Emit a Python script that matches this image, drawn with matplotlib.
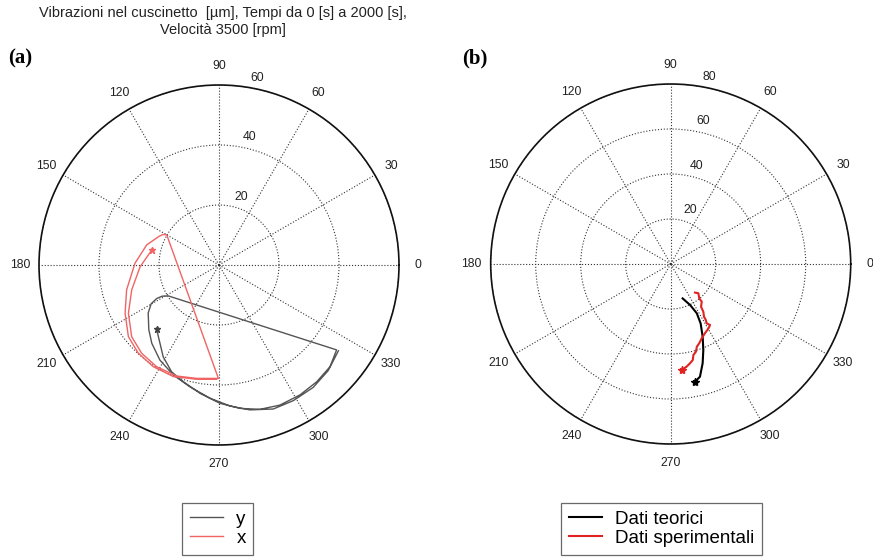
import numpy as np
import matplotlib
matplotlib.use("Agg")
import matplotlib.pyplot as plt
from matplotlib.transforms import ScaledTranslation

plt.rcParams["font.family"] = ["Liberation Sans", "DejaVu Sans"]

# ---- data (x/y components, same units as the rings) ----
# (a) bearing vibration, rmax 60
red_x = [-22.4, -26.3, -29.1, -30.2, -29.1, -25.8, -20.8, -14.1, -7.4, -0.2,
         -17.4, -18.6, -19.9, -24.1, -28.0, -30.8, -31.3, -30.2, -26.9, -21.9, -15.2, -7.4, -0.8]
red_y = [5.0, -0.6, -8.3, -16.1, -23.9, -29.4, -33.9, -37.0, -37.8, -37.8,
         10.0, 10.2, 9.6, 6.7, 0.6, -8.3, -16.1, -23.9, -29.4, -33.9, -37.2, -38.1, -38.1]

gray_x = [-20.8, -20.2, -18.6, -15.8, -11.9, -6.3, 0.3, 7.0, 13.7, 20.3, 27.0, 32.6, 37.0, 39.2,
          -16.9, -19.0, -20.8, -22.6, -23.6, -23.4, -22.4, -19.7, -15.2, -9.7, -3.0, 3.7, 10.3,
          18.1, 24.8, 31.4, 36.4, 39.8]
gray_y = [-21.4, -23.9, -30.6, -35.6, -38.9, -42.8, -46.1, -47.8, -48.1, -46.7, -43.3, -38.9,
          -33.9, -28.3, -10.3, -10.4, -11.2, -12.9, -16.0, -21.5, -26.1, -31.7, -36.7, -40.6,
          -44.4, -47.0, -48.3, -48.0, -45.2, -40.8, -35.2, -28.6]

# (b) theory vs experiment, rmax 80
teo_x = [5.3, 8.6, 11.6, 13.3, 14.2, 14.5, 14.2, 13.0, 10.8]
teo_y = [-15.3, -18.2, -21.9, -26.4, -32.3, -38.2, -44.1, -50.1, -52.3]

sper_x = [10.8, 12.3, 12.7, 13.8, 13.5, 14.5, 14.8, 15.6, 16.0, 17.5, 16.8, 15.2, 13.8,
          12.7, 11.6, 11.2, 10.1, 9.8, 8.6, 7.1, 4.9]
sper_y = [-12.7, -13.0, -15.3, -16.7, -19.0, -21.2, -23.4, -24.9, -26.4, -27.1, -28.6, -30.8,
          -33.0, -35.2, -36.8, -39.0, -40.4, -42.7, -44.1, -45.6, -47.1]

angle_ticks = list(range(0, 360, 30))
rings_a = [20, 40, 60]
rings_b = [20, 40, 60, 80]

title = "Vibrazioni nel cuscinetto  [\u00b5m], Tempi da 0 [s] a 2000 [s],\nVelocit\u00e0 3500 [rpm]"


def to_polar(x, y):
    x = np.asarray(x)
    y = np.asarray(y)
    return np.arctan2(y, x), np.hypot(x, y)


W, H = 873, 557
fig = plt.figure(figsize=(W / 100, H / 100), dpi=100)


def polar_axes(cx, cy, R, rings):
    ax = fig.add_axes([(cx - R) / W, (H - cy - R) / H, 2 * R / W, 2 * R / H], projection="polar")
    rmax = rings[-1]
    ax.set_rlim(0, rmax)
    ax.set_xticks(np.deg2rad(angle_ticks))
    ax.set_xticklabels([])
    ax.set_yticks(rings)
    ax.set_yticklabels([])
    ax.grid(True, linestyle=":", color="#333333", linewidth=0.8)
    ax.spines["polar"].set_linewidth(1.2)
    ax.spines["polar"].set_color("#111111")
    for a in angle_ticks:
        ax.text(np.deg2rad(a), rmax * 1.105, str(a), ha="center", va="center",
                fontsize=8.8, color="#222222", clip_on=False)
    # ring labels sit just right of the 90 spoke, MATLAB style
    off = ScaledTranslation(0.14, 0.09, fig.dpi_scale_trans)
    for v in rings:
        ax.text(np.deg2rad(82.3), v, str(v), ha="center", va="center", fontsize=8.8,
                color="#222222", transform=ax.transData + off, clip_on=False)
    return ax


# (a)
ax1 = polar_axes(219, 265, 180, rings_a)
t, r = to_polar(gray_x, gray_y)
l_y, = ax1.plot(t, r, color="#555555", lw=1.0)
ax1.plot(t[0], r[0], marker="*", color="#444444", ms=5)
t, r = to_polar(red_x, red_y)
l_x, = ax1.plot(t, r, color="#f06464", lw=1.0)
ax1.plot(t[0], r[0], marker="*", color="#f06464", ms=5)

# (b)
ax2 = polar_axes(670.7, 264, 180, rings_b)
t, r = to_polar(teo_x, teo_y)
l_t, = ax2.plot(t, r, color="black", lw=1.5)
ax2.plot(t[-1], r[-1], marker="*", color="black", ms=6)
t, r = to_polar(sper_x, sper_y)
l_s, = ax2.plot(t, r, color="#e02222", lw=1.5)
ax2.plot(t[-1], r[-1], marker="*", color="#e02222", ms=6)

fig.text(223 / W, 1 - 6 / H, title, ha="center", va="top", fontsize=10.5,
         color="#222222", linespacing=1.25)
fig.text(8 / W, 1 - 58 / H, "(a)", fontsize=15, fontweight="bold",
         family="Liberation Serif", va="center", ha="left")
fig.text(462 / W, 1 - 58 / H, "(b)", fontsize=15, fontweight="bold",
         family="Liberation Serif", va="center", ha="left")

for handles, labels, x0, y0 in [([l_y, l_x], ["y", "x"], 182, 503),
                                ([l_t, l_s], ["Dati teorici", "Dati sperimentali"], 561, 503)]:
    leg = fig.legend(handles, labels, loc="upper left", bbox_to_anchor=(x0 / W, 1 - y0 / H),
                     fontsize=13.5, frameon=True, fancybox=False, borderaxespad=0,
                     handlelength=1.8, handletextpad=0.7, labelspacing=0.12, borderpad=0.4)
    leg.get_frame().set_edgecolor("#444444")
    leg.get_frame().set_linewidth(0.9)

fig.savefig("out.png", dpi=100)
